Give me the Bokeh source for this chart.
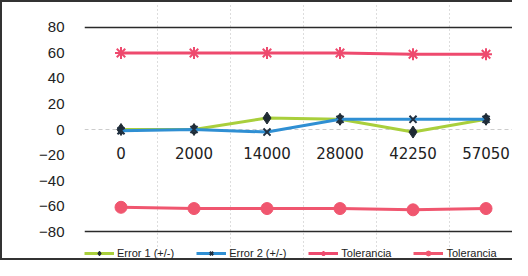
from bokeh.plotting import figure
from bokeh.models import Legend, LegendItem, FixedTicker, Range1d, ColumnDataSource
from bokeh.core.properties import value
from bokeh.embed import file_html
from bokeh.resources import INLINE

categories = ["0", "2000", "14000", "28000", "42250", "57050"]
error1 = [0, 0, 9, 8, -2, 8]
error2 = [-1, 0, -2, 8, 8, 8]
tol_upper = [60, 60, 60, 60, 59, 59]
tol_lower = [-61, -62, -62, -62, -63, -62]
y_ticks = [-80, -60, -40, -20, 0, 20, 40, 60, 80]
axis_cross = 0  # category axis crosses the value axis at 0

xs = list(range(len(categories)))

# frame covers the whole height; the value window -80..80 sits inside it,
# leaving room below for the legend
p = figure(width=512, height=260, output_backend="svg", toolbar_location=None,
           x_range=Range1d(-0.5, 5.39), y_range=Range1d(-104.3, 99.6),
           min_border_left=82, min_border_top=0, min_border_bottom=0,
           min_border_right=0)
p.outline_line_color = None
p.styles = {"border-left": "2px solid #333", "border-top": "2px solid #333",
            "border-bottom": "2px solid #333"}

# y axis
p.yaxis.ticker = FixedTicker(ticks=y_ticks)
p.yaxis.axis_line_color = None
p.yaxis.major_tick_line_color = None
p.yaxis.minor_tick_line_color = None
p.yaxis.major_label_text_font = "Liberation Sans"
p.yaxis.major_label_text_font_size = "15px"
p.yaxis.major_label_text_color = "#222222"
p.yaxis.major_label_standoff = 14

p.xaxis.visible = False

# grids
p.ygrid.ticker = FixedTicker(ticks=[y_ticks[0], y_ticks[-1]])
p.ygrid.grid_line_color = "#2a2a2a"
p.ygrid.grid_line_width = 1.5
p.xgrid.ticker = FixedTicker(ticks=[i - 0.5 for i in range(len(categories) + 1)])
p.xgrid.bounds = (y_ticks[0], y_ticks[-1])
p.xgrid.grid_line_color = "#bbbbbb"
p.xgrid.grid_line_dash = "1 3"

# category axis line + labels at y = 0
p.line([xs[0] - 0.5, xs[-1] + 0.5], [axis_cross, axis_cross], line_color="#cccccc", line_dash="4 3")
lab_src = ColumnDataSource(dict(x=xs, y=[axis_cross] * len(xs), t=categories))
p.text(x="x", y="y", text="t", source=lab_src, text_align="center", text_baseline="top",
       y_offset=17, text_font=value("DejaVu Sans"), text_font_size="15px", text_color="#222222")

green = "#a9cf3c"
blue = "#2f8fd3"
pink = "#ee4a6e"
pink2 = "#f0566f"

l1 = p.line(xs, error1, line_color=green, line_width=3)
m1 = p.scatter(xs, error1, marker="diamond", size=12, fill_color="#1f2a33", line_color="#1f2a33")
l2 = p.line(xs, error2, line_color=blue, line_width=3)
m2 = p.scatter(xs, error2, marker="x", size=10, line_color="#1f2f40", line_width=2)
l3 = p.line(xs, tol_upper, line_color=pink, line_width=3)
m3 = p.scatter(xs, tol_upper, marker="asterisk", size=12, line_color=pink, line_width=2)
l4 = p.line(xs, tol_lower, line_color=pink2, line_width=3)
m4 = p.scatter(xs, tol_lower, marker="circle", size=12, fill_color=pink2, line_color=pink2)

legend = Legend(items=[
    LegendItem(label="Error 1 (+/-)", renderers=[l1, m1]),
    LegendItem(label="Error 2 (+/-)", renderers=[l2, m2]),
    LegendItem(label="Tolerancia", renderers=[l3, m3]),
    LegendItem(label="Tolerancia", renderers=[l4, m4]),
], orientation="horizontal", location=(0, 3))
legend.label_text_font = "Liberation Sans"
legend.label_text_font_size = "11px"
legend.label_text_color = "#222222"
legend.glyph_width = 30
legend.glyph_height = 12
legend.label_standoff = 3
legend.spacing = 22
legend.padding = 0
legend.margin = 0
legend.border_line_color = None
legend.background_fill_alpha = 0
p.add_layout(legend)

open("out.html", "w").write(file_html(p, INLINE))
